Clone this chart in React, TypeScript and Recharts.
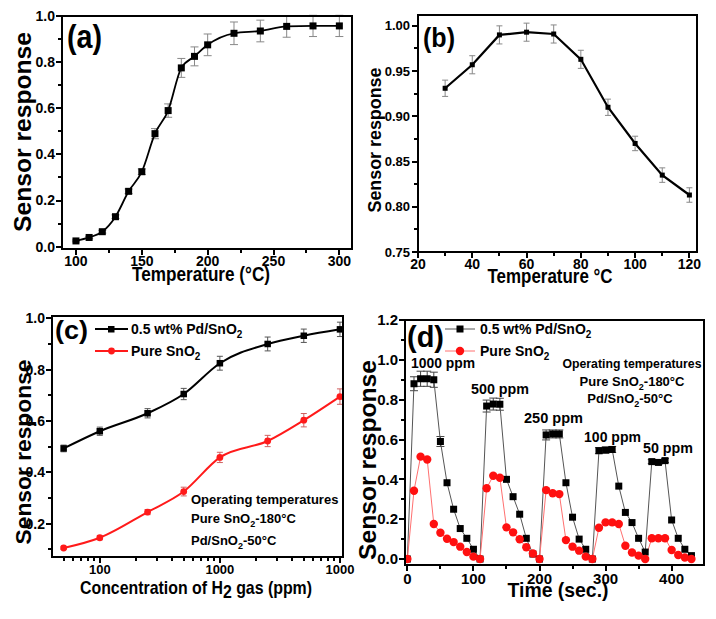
import React from "react";
import { LineChart, Line, XAxis, YAxis, ErrorBar } from "recharts";

const FONT = "'Liberation Sans', Arial, Helvetica, sans-serif";

// (a) response vs temperature, 0.5 wt% Pd/SnO2
const aTemp = [100, 110, 120, 130, 140, 150, 160, 170, 180, 190, 200, 220, 240, 260, 280, 300];
const aResp = [0.025, 0.04, 0.065, 0.13, 0.24, 0.325, 0.49, 0.59, 0.775, 0.825, 0.875, 0.925, 0.935, 0.955, 0.957, 0.957];
const aErr = [0.004, 0.005, 0.006, 0.008, 0.01, 0.012, 0.022, 0.029, 0.041, 0.041, 0.047, 0.049, 0.047, 0.047, 0.046, 0.046];
const aXTicks = [100, 125, 150, 175, 200, 225, 250, 275, 300];
const aYTicks = [0, 0.1, 0.2, 0.3, 0.4, 0.5, 0.6, 0.7, 0.8, 0.9, 1.0];

// (b) low temperature range
const bTemp = [30, 40, 50, 60, 70, 80, 90, 100, 110, 120];
const bResp = [0.931, 0.957, 0.99, 0.993, 0.991, 0.963, 0.91, 0.87, 0.835, 0.813];
const bErr = [0.009, 0.01, 0.01, 0.01, 0.01, 0.01, 0.009, 0.008, 0.008, 0.008];
const bXTicks = [20, 30, 40, 50, 60, 70, 80, 90, 100, 110, 120];
const bYTicks = [0.75, 0.775, 0.8, 0.825, 0.85, 0.875, 0.9, 0.925, 0.95, 0.975, 1.0];

// (c) response vs H2 concentration
const cConc = [50, 100, 250, 500, 1000, 2500, 5000, 10000];
const cPd = [0.493, 0.56, 0.63, 0.705, 0.825, 0.9, 0.932, 0.957];
const cPdErr = [0.013, 0.016, 0.018, 0.022, 0.027, 0.027, 0.026, 0.028];
const cPure = [0.105, 0.145, 0.245, 0.325, 0.458, 0.522, 0.603, 0.695];
const cPureErr = [0.005, 0.008, 0.01, 0.017, 0.02, 0.022, 0.026, 0.03];
const cXTicks = [50, 60, 70, 80, 90, 100, 200, 300, 400, 500, 600, 700, 800, 900, 1000, 2000, 3000, 4000, 5000, 6000, 7000, 8000, 9000, 10000];
const cXLabels: Record<number, string> = { 100: "100", 1000: "1000", 10000: "1000" };
const cYTicks = [0.1, 0.2, 0.3, 0.4, 0.5, 0.6, 0.7, 0.8, 0.9, 1.0];

// (d) dynamic response cycles
const dTime = [0, 10, 20, 30, 40, 50, 60, 70, 80, 90, 100, 110, 120, 130, 140, 150, 160, 170, 180, 190, 200, 210, 220, 230, 240, 250, 260, 270, 280, 290, 300, 310, 320, 330, 340, 350, 360, 370, 380, 390, 400, 410, 420, 430];
const dPd = [0, 0.88, 0.905, 0.905, 0.9, 0.59, 0.383, 0.25, 0.153, 0.104, 0.049, 0, 0.768, 0.778, 0.777, 0.4, 0.313, 0.225, 0.104, 0.025, 0, 0.623, 0.628, 0.628, 0.383, 0.21, 0.1, 0.049, 0, 0.544, 0.547, 0.55, 0.366, 0.234, 0.183, 0.104, 0.035, 0.489, 0.485, 0.494, 0.196, 0.104, 0.049, 0.017];
const dPdErr = [0, 0.035, 0.038, 0.038, 0.038, 0.025, 0, 0, 0, 0, 0, 0, 0.03, 0.03, 0.03, 0, 0, 0, 0, 0, 0, 0.025, 0.02, 0.02, 0, 0, 0, 0, 0, 0.015, 0.015, 0.015, 0, 0, 0, 0, 0, 0.01, 0.01, 0.01, 0, 0, 0, 0];
const dPure = [0, 0.343, 0.514, 0.5, 0.176, 0.132, 0.102, 0.085, 0.062, 0.035, 0.012, 0, 0.355, 0.418, 0.408, 0.159, 0.134, 0.099, 0.059, 0.028, 0, 0.346, 0.33, 0.326, 0.095, 0.062, 0.042, 0.012, 0, 0.157, 0.184, 0.184, 0.176, 0.067, 0.033, 0.017, 0, 0.104, 0.104, 0.104, 0.045, 0.02, 0.008, 0];
const dXTicks = [0, 50, 100, 150, 200, 250, 300, 350, 400];
const dYTicks = [0, 0.1, 0.2, 0.3, 0.4, 0.5, 0.6, 0.7, 0.8, 0.9, 1.0, 1.1, 1.2];

const aData = aTemp.map((t, i) => ({ t, r: aResp[i], e: aErr[i] }));
const bData = bTemp.map((t, i) => ({ t, r: bResp[i], e: bErr[i] }));
const cData = cConc.map((c, i) => ({ c, pd: cPd[i], pde: cPdErr[i], pure: cPure[i], puree: cPureErr[i] }));
const dData = dTime.map((t, i) => ({ t, pd: dPd[i], pde: dPdErr[i], pure: dPure[i] }));

// panel placement: chart box, margins, axis sizes (also used for the frame)
const PA = { left: 0, top: 0, w: 360, h: 300, m: { top: 16, right: 8, left: 0, bottom: 0 }, yW: 62, xH: 51 };
const PB = { left: 358, top: 0, w: 358, h: 300, m: { top: 15, right: 19, left: 0, bottom: 0 }, yW: 60, xH: 48 };
const PC = { left: 0, top: 300, w: 358, h: 319, m: { top: 16, right: 15, left: 0, bottom: 0 }, yW: 52, xH: 62 };
const PD = { left: 358, top: 300, w: 358, h: 319, m: { top: 20, right: 12, left: 0, bottom: 0 }, yW: 47, xH: 54 };

const evenTenth = (v: number) => Math.round(v * 10) % 2 === 0;
const axisStroke = { stroke: "#000", strokeWidth: 2 };

// tick mark as a pixel-aligned filled rect, label for majors only
function axisTick(
  side: "bottom" | "left",
  isMajor: (v: number) => boolean,
  label: (v: number) => string,
  fontSize: number,
  gap: number
) {
  return (p: any) => {
    const v = p.payload.value;
    const major = isMajor(v);
    const len = major ? 6 : 4;
    if (side === "bottom") {
      const x = Math.round(p.x);
      return (
        <g>
          <rect x={x - 1} y={Math.round(p.y)} width={2} height={len} fill="#000" />
          {major && (
            <text x={p.x} y={p.y + gap} textAnchor="middle" fontSize={fontSize} fontWeight="bold" fontFamily={FONT} fill="#000">
              {label(v)}
            </text>
          )}
        </g>
      );
    }
    const y = Math.round(p.y);
    return (
      <g>
        <rect x={Math.round(p.x) - len} y={y - 1} width={len} height={2} fill="#000" />
        {major && (
          <text x={p.x - gap} y={p.y} dy="0.35em" textAnchor="end" fontSize={fontSize} fontWeight="bold" fontFamily={FONT} fill="#000">
            {label(v)}
          </text>
        )}
      </g>
    );
  };
}

const squareDot = (size: number, fill: string) => (p: any) => {
  if (p.cx == null || p.cy == null) return <g key={`n${p.index}`} />;
  return <rect key={`s${p.index}`} x={p.cx - size / 2} y={p.cy - size / 2} width={size} height={size} fill={fill} />;
};
const circleDot = (r: number, fill: string) => (p: any) => {
  if (p.cx == null || p.cy == null) return <g key={`n${p.index}`} />;
  return <circle key={`c${p.index}`} cx={p.cx} cy={p.cy} r={r} fill={fill} />;
};

// plot frame from a panel's layout, whole pixels, 2px thick
const Frame = ({ P }: any) => {
  const x0 = P.left + P.m.left + P.yW;
  const y0 = P.top + P.m.top;
  const x1 = P.left + P.w - P.m.right;
  const y1 = P.top + P.h - P.m.bottom - P.xH;
  return (
    <g>
      <rect x={x0 - 1} y={y0 - 1} width={x1 - x0 + 2} height={2} fill="#000" />
      <rect x={x0 - 1} y={y1 - 1} width={x1 - x0 + 2} height={2} fill="#000" />
      <rect x={x0 - 1} y={y0 - 1} width={2} height={y1 - y0 + 2} fill="#000" />
      <rect x={x1 - 1} y={y0 - 1} width={2} height={y1 - y0 + 2} fill="#000" />
    </g>
  );
};

// plain svg text helper
const T = ({ x, y, size, len, anchor = "start", rot, children }: any) => (
  <text
    x={x}
    y={y}
    fontSize={size}
    fontWeight="bold"
    fontFamily={FONT}
    fill="#000"
    textAnchor={anchor}
    textLength={len}
    lengthAdjust={len ? "spacingAndGlyphs" : undefined}
    transform={rot ? `rotate(${rot} ${x} ${y})` : undefined}
  >
    {children}
  </text>
);

const PanelA = () => (
  <LineChart width={PA.w} height={PA.h} data={aData} margin={PA.m}>
    <XAxis dataKey="t" type="number" domain={[89.4, 309.6]} allowDataOverflow ticks={aXTicks} interval={0}
      tickSize={0} tickMargin={0} tickLine={false} axisLine={axisStroke} height={PA.xH}
      tick={axisTick("bottom", (v) => v % 50 === 0, (v) => String(v), 14, 17)} />
    <YAxis type="number" domain={[-0.01, 1.0]} allowDataOverflow ticks={aYTicks} interval={0}
      tickSize={0} tickMargin={0} tickLine={false} axisLine={axisStroke} width={PA.yW}
      tick={axisTick("left", evenTenth, (v) => v.toFixed(1), 14, 7)} />
    <Line dataKey="r" type="monotone" stroke="#000" strokeWidth={1.8} isAnimationActive={false} dot={squareDot(7, "#000")}>
      <ErrorBar dataKey="e" width={4} stroke="#888" strokeWidth={1} direction="y" />
    </Line>
  </LineChart>
);

const PanelB = () => (
  <LineChart width={PB.w} height={PB.h} data={bData} margin={PB.m}>
    <XAxis dataKey="t" type="number" domain={[20, 122.8]} allowDataOverflow ticks={bXTicks} interval={0}
      tickSize={0} tickMargin={0} tickLine={false} axisLine={axisStroke} height={PB.xH}
      tick={axisTick("bottom", (v) => v % 20 === 0, (v) => String(v), 14, 17)} />
    <YAxis type="number" domain={[0.75, 1.012]} allowDataOverflow ticks={bYTicks} interval={0}
      tickSize={0} tickMargin={0} tickLine={false} axisLine={axisStroke} width={PB.yW}
      tick={axisTick("left", (v) => Math.round(v * 1000) % 50 === 0, (v) => v.toFixed(2), 13, 8)} />
    <Line dataKey="r" type="linear" stroke="#000" strokeWidth={2.2} isAnimationActive={false} dot={squareDot(5, "#000")}>
      <ErrorBar dataKey="e" width={3} stroke="#888" strokeWidth={1} direction="y" />
    </Line>
  </LineChart>
);

const PanelC = () => (
  <LineChart width={PC.w} height={PC.h} data={cData} margin={PC.m}>
    <XAxis dataKey="c" type="number" scale="log" domain={[40, 10600]} allowDataOverflow ticks={cXTicks} interval={0}
      tickSize={0} tickMargin={0} tickLine={false} axisLine={axisStroke} height={PC.xH}
      tick={axisTick("bottom", (v) => cXLabels[v] !== undefined, (v) => cXLabels[v] ?? "", 13, 17)} />
    <YAxis type="number" domain={[0.07, 1.009]} allowDataOverflow ticks={cYTicks} interval={0}
      tickSize={0} tickMargin={0} tickLine={false} axisLine={axisStroke} width={PC.yW}
      tick={axisTick("left", evenTenth, (v) => v.toFixed(1), 14, 7)} />
    <Line dataKey="pd" type="monotone" stroke="#000" strokeWidth={2} isAnimationActive={false} dot={squareDot(6.5, "#000")}>
      <ErrorBar dataKey="pde" width={3} stroke="#555" strokeWidth={1} direction="y" />
    </Line>
    <Line dataKey="pure" type="monotone" stroke="#ff1a1a" strokeWidth={2} isAnimationActive={false} dot={circleDot(3.4, "#ff1a1a")}>
      <ErrorBar dataKey="puree" width={3} stroke="#d06060" strokeWidth={1} direction="y" />
    </Line>
  </LineChart>
);

const PanelD = () => (
  <LineChart width={PD.w} height={PD.h} data={dData} margin={PD.m}>
    <XAxis dataKey="t" type="number" domain={[-3.6, 449]} allowDataOverflow ticks={dXTicks} interval={0}
      tickSize={0} tickMargin={0} tickLine={false} axisLine={axisStroke} height={PD.xH}
      tick={axisTick("bottom", (v) => v % 100 === 0, (v) => String(v), 15, 19)} />
    <YAxis type="number" domain={[-0.03, 1.2]} allowDataOverflow ticks={dYTicks} interval={0}
      tickSize={0} tickMargin={0} tickLine={false} axisLine={axisStroke} width={PD.yW}
      tick={axisTick("left", evenTenth, (v) => v.toFixed(1), 15, 7)} />
    <Line dataKey="pd" type="linear" stroke="#555" strokeWidth={1} isAnimationActive={false} dot={squareDot(7, "#000")}>
      <ErrorBar dataKey="pde" width={4} stroke="#444" strokeWidth={1} direction="y" />
    </Line>
    <Line dataKey="pure" type="linear" stroke="#ff7070" strokeWidth={1} isAnimationActive={false} dot={circleDot(4.2, "#ff1010")} />
  </LineChart>
);

const Overlay = () => (
  <svg width={716} height={619} style={{ position: "absolute", left: 0, top: 0, pointerEvents: "none" }}>
    <Frame P={PA} />
    <Frame P={PB} />
    <Frame P={PC} />
    <Frame P={PD} />

    {/* panel (a) */}
    <T x={67} y={48} size={34} len={35}>(a)</T>
    <T x={31} y={132} size={23} len={200} anchor="middle" rot={-90}>Sensor response</T>
    <T x={201} y={281} size={20} len={138} anchor="middle">Temperature (°C)</T>

    {/* panel (b) */}
    <T x={423} y={47} size={27} len={32}>(b)</T>
    <T x={381} y={140} size={18} len={145} anchor="middle" rot={-90}>Sensor response</T>
    <T x={550} y={283} size={20} len={125} anchor="middle">Temperature °C</T>

    {/* panel (c) */}
    <T x={55} y={339} size={25} len={33}>(c)</T>
    <T x={31} y={452} size={22} len={185} anchor="middle" rot={-90}>Sensor response</T>
    <T x={196} y={594} size={19} len={232} anchor="middle">
      Concentration of H<tspan dy={4}>2</tspan><tspan dy={-4}> gas (ppm)</tspan>
    </T>
    <line x1={95} x2={128} y1={329} y2={329} stroke="#000" strokeWidth={2} />
    <rect x={108} y={326} width={6.5} height={6.5} fill="#000" />
    <T x={131} y={334} size={14}>0.5 wt% Pd/SnO<tspan dy={4} fontSize={10}>2</tspan></T>
    <line x1={95} x2={128} y1={351} y2={351} stroke="#ff1a1a" strokeWidth={2} />
    <circle cx={111.5} cy={351} r={3.4} fill="#ff1a1a" />
    <T x={131} y={356} size={14}>Pure SnO<tspan dy={4} fontSize={10}>2</tspan></T>
    <T x={191} y={504} size={13}>Operating temperatures</T>
    <T x={191} y={523} size={13}>Pure SnO<tspan dy={4} fontSize={9}>2</tspan><tspan dy={-4}>-180°C</tspan></T>
    <T x={191} y={545} size={13}>Pd/SnO<tspan dy={4} fontSize={9}>2</tspan><tspan dy={-4}>-50°C</tspan></T>

    {/* panel (d) */}
    <T x={407} y={347} size={30} len={37}>(d)</T>
    <T x={376} y={460} size={24} len={200} anchor="middle" rot={-90}>Sensor response</T>
    <T x={558} y={597} size={21} len={101} anchor="middle">Time (sec.)</T>
    <line x1={445} x2={475} y1={329} y2={329} stroke="#555" strokeWidth={1} />
    <rect x={456.5} y={325.5} width={7} height={7} fill="#000" />
    <T x={480} y={334} size={14}>0.5 wt% Pd/SnO<tspan dy={4} fontSize={10}>2</tspan></T>
    <line x1={445} x2={475} y1={351} y2={351} stroke="#ff7070" strokeWidth={1} />
    <circle cx={460} cy={351} r={4.2} fill="#ff1010" />
    <T x={480} y={356} size={14}>Pure SnO<tspan dy={4} fontSize={10}>2</tspan></T>
    <T x={411} y={368} size={15} len={64}>1000 ppm</T>
    <T x={471} y={394} size={15} len={58}>500 ppm</T>
    <T x={524} y={423} size={15} len={59}>250 ppm</T>
    <T x={584} y={442} size={15} len={57}>100 ppm</T>
    <T x={643} y={453} size={15} len={50}>50 ppm</T>
    <T x={632} y={368} size={13} len={139} anchor="middle">Operating temperatures</T>
    <T x={632} y={386} size={13} anchor="middle">Pure SnO<tspan dy={4} fontSize={9}>2</tspan><tspan dy={-4}>-180°C</tspan></T>
    <T x={630} y={403} size={13} anchor="middle">Pd/SnO<tspan dy={4} fontSize={9}>2</tspan><tspan dy={-4}>-50°C</tspan></T>
  </svg>
);

export default function App() {
  return (
    <div style={{ position: "relative", margin: "-8px 0 0 -8px", width: 716, height: 619, background: "#fff" }}>
      <div style={{ position: "absolute", left: PA.left, top: PA.top }}><PanelA /></div>
      <div style={{ position: "absolute", left: PB.left, top: PB.top }}><PanelB /></div>
      <div style={{ position: "absolute", left: PC.left, top: PC.top }}><PanelC /></div>
      <div style={{ position: "absolute", left: PD.left, top: PD.top }}><PanelD /></div>
      <Overlay />
    </div>
  );
}
